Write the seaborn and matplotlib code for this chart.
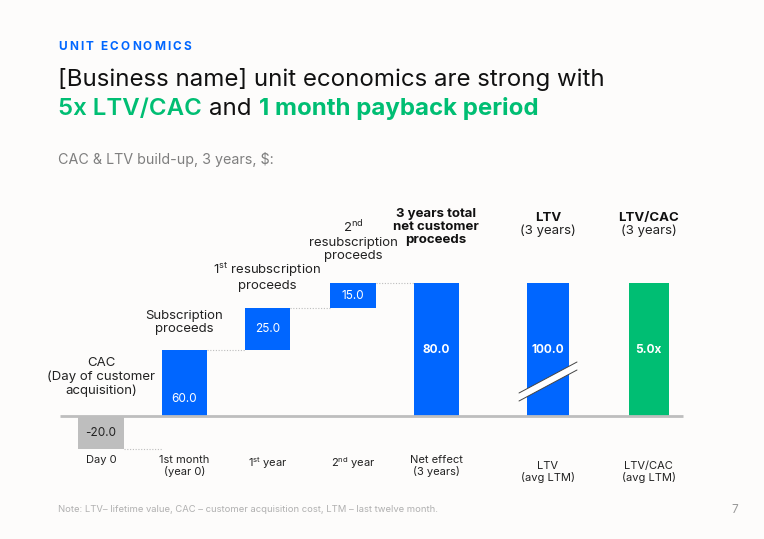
import numpy as np
import pandas as pd
import matplotlib
matplotlib.use("Agg")
import matplotlib.pyplot as plt
import seaborn as sns
from matplotlib.patches import Polygon

# ---------------- data ----------------
step_labels = ["Day 0", "1st month\n(year 0)", r"1$^{\mathrm{st}}$ year", r"2$^{\mathrm{nd}}$ year"]
step_values = [-20.0, 60.0, 25.0, 15.0]
step_headers = ["CAC\n(Day of customer\nacquisition)", "Subscription\nproceeds",
                r"1$^{\mathrm{st}}$ resubscription" + "\nproceeds",
                r"2$^{\mathrm{nd}}$" + "\nresubscription\nproceeds"]
net_label = "Net effect\n(3 years)"
net_header = "3 years total\nnet customer\nproceeds"
net_value = 80.0
ltv_label = "LTV\n(avg LTM)"
ltv_value = 100.0
ratio_label = "LTV/CAC\n(avg LTM)"
ratio_value = 5.0

# ---------------- style ----------------
BG = "#FDFCFB"
BLUE = "#0066FF"
GREEN = "#00BE73"
GRAY = "#BEBEBE"
FONT = "Inter"

sns.set_theme(style="white")
plt.rcParams["font.family"] = [FONT, "DejaVu Sans"]
plt.rcParams["mathtext.fontset"] = "custom"
plt.rcParams["mathtext.rm"] = FONT
plt.rcParams["mathtext.it"] = FONT
plt.rcParams["mathtext.bf"] = FONT + ":bold"

W, H = 764, 539
fig = plt.figure(figsize=(W / 100, H / 100), dpi=100, facecolor=BG)

# axes placed in pixel coordinates
ax_l, ax_r, ax_t, ax_b = 40, 720, 180, 500
ax = fig.add_axes([ax_l / W, 1 - ax_b / H, (ax_r - ax_l) / W, (ax_b - ax_t) / H])
ax.set_facecolor(BG)
x0_px, unit_px = 101, 84.0      # x pixel of first bar centre, spacing
base_px, yscale = 416, 1.66     # y pixel of zero, px per value unit

# ---------------- derive bars ----------------
cum = np.cumsum(step_values)
prev = np.concatenate([[0.0], cum[:-1]])
positions = [0, 0.994, 1.98, 3.0, 3.99, 5.32, 6.52]
widths = [0.536, 0.536, 0.536, 0.536, 0.536, 0.50, 0.48]

bars = []
for i, v in enumerate(step_values):
    bottom = max(prev[i], 0.0)
    bars.append(dict(pos=positions[i], bottom=bottom, height=cum[i] - bottom,
                     color=GRAY if v < 0 else BLUE, label=f"{v:.1f}",
                     label_y=(prev[i] + cum[i]) / 2, bold=False,
                     txtcolor="#222222" if v < 0 else "white", w=widths[i]))
display_top = cum[-1]
bars.append(dict(pos=positions[4], bottom=0.0, height=net_value, color=BLUE,
                 label=f"{net_value:.1f}", label_y=net_value / 2, bold=True,
                 txtcolor="white", w=widths[4]))
bars.append(dict(pos=positions[5], bottom=0.0, height=display_top, color=BLUE,
                 label=f"{ltv_value:.1f}", label_y=display_top / 2, bold=True,
                 txtcolor="white", w=widths[5]))
bars.append(dict(pos=positions[6], bottom=0.0, height=display_top, color=GREEN,
                 label=f"{ratio_value:.1f}x", label_y=display_top / 2, bold=True,
                 txtcolor="white", w=widths[6]))

for b in bars:
    df = pd.DataFrame({"x": [b["pos"]], "y": [b["height"]]})
    sns.barplot(data=df, x="x", y="y", native_scale=True, width=b["w"],
                color=b["color"], saturation=1, errorbar=None, bottom=b["bottom"],
                ax=ax, linewidth=0, zorder=2)
    ax.text(b["pos"], b["label_y"], b["label"], ha="center", va="center",
            color=b["txtcolor"], fontsize=8.5,
            fontweight="bold" if b["bold"] else "normal", zorder=5)

ax.set_xlim((ax_l - x0_px) / unit_px, (ax_r - x0_px) / unit_px)
ax.set_ylim((base_px - ax_b) / yscale, (base_px - ax_t) / yscale)
ax.axis("off")

# baseline
ax.plot([(60 - x0_px) / unit_px, (683 - x0_px) / unit_px], [0, 0],
        color=GRAY, lw=2, zorder=3, solid_capstyle="butt")

# dotted connectors
for i in range(len(step_values)):
    x_start = bars[i]["pos"] + bars[i]["w"] / 2
    x_end = bars[i + 1]["pos"] - bars[i + 1]["w"] / 2
    ax.plot([x_start, x_end], [cum[i], cum[i]], color="#BDBDBD", lw=0.8,
            ls=(0, (1, 1.5)), zorder=1)

# axis break on LTV bar
def px2d(px, py):
    return ((px - x0_px) / unit_px, (base_px - py) / yscale)

p1, p2, p3, p4 = px2d(519, 393), px2d(577, 362), px2d(577, 370), px2d(519, 401)
ax.add_patch(Polygon([p1, p2, p3, p4], closed=True, facecolor="white",
                     edgecolor="none", zorder=4))
for a, c in ((p1, p2), (p4, p3)):
    ax.plot([a[0], c[0]], [a[1], c[1]], color="#444444", lw=0.7, zorder=4.5)

# headers above bars (bottom of text block in pixel y)
header_bottoms = [397, 335, 292, 262]
for i, h in enumerate(step_headers):
    ax.text(positions[i], (base_px - header_bottoms[i]) / yscale, h, ha="center",
            va="bottom", fontsize=9.5, color="#222222", linespacing=1.15)
ax.text(positions[4], (base_px - 246) / yscale, net_header, ha="center", va="bottom",
        fontsize=9.5, fontweight="bold", color="#111111", linespacing=1.1)
for p in (5, 6):
    name = "LTV" if p == 5 else "LTV/CAC"
    ax.text(positions[p], (base_px - 224) / yscale, name, ha="center", va="bottom",
            fontsize=9.5, fontweight="bold", color="#111111")
    ax.text(positions[p], (base_px - 225) / yscale, "(3 years)", ha="center", va="top",
            fontsize=9.5, color="#222222")

# bottom category labels
cat_labels = step_labels + [net_label, ltv_label, ratio_label]
cat_tops = [455, 455, 455, 455, 455, 461, 461]
for p, lab, t in zip(positions, cat_labels, cat_tops):
    ax.text(p, (base_px - t) / yscale, lab, ha="center", va="top", fontsize=8,
            color="#222222", linespacing=1.15)

# ---------------- titles ----------------
def fy(py):
    return 1 - py / H

renderer = fig.canvas.get_renderer()

# letter-spaced kicker
xpx = 58
for ch in "UNIT ECONOMICS":
    t = fig.text(xpx / W, fy(50), ch, fontsize=8.5, fontweight="bold",
                 color=BLUE, va="baseline", ha="left")
    wch = t.get_window_extent(renderer=renderer).width if ch != " " else 3.0
    xpx += wch + 2.2

fig.text(58 / W, fy(86), "[Business name] unit economics are strong with",
         fontsize=17.3, color="#111111", va="baseline", ha="left")

runs = [("5x LTV/CAC", GREEN, "semibold"), ("and", "#111111", "normal"),
        ("1 month payback period", GREEN, "bold")]
xpx = 58
for s, c, wgt in runs:
    t = fig.text(xpx / W, fy(115), s, fontsize=17.3, color=c, fontweight=wgt,
                 va="baseline", ha="left")
    bb = t.get_window_extent(renderer=renderer)
    xpx += bb.width + 7.5

fig.text(58 / W, fy(164), "CAC & LTV build-up, 3 years, $:", fontsize=10.3,
         color="#7F7F7F", va="baseline", ha="left")
fig.text(58 / W, fy(512), "Note: LTV\u2013 lifetime value, CAC \u2013 customer acquisition cost, LTM \u2013 last twelve month.",
         fontsize=6.8, color="#B0B0B0", va="baseline", ha="left")
fig.text(735 / W, fy(513), "7", fontsize=8.5, color="#9A9A9A", va="baseline", ha="center")

fig.savefig("out.png", dpi=100, facecolor=BG)
